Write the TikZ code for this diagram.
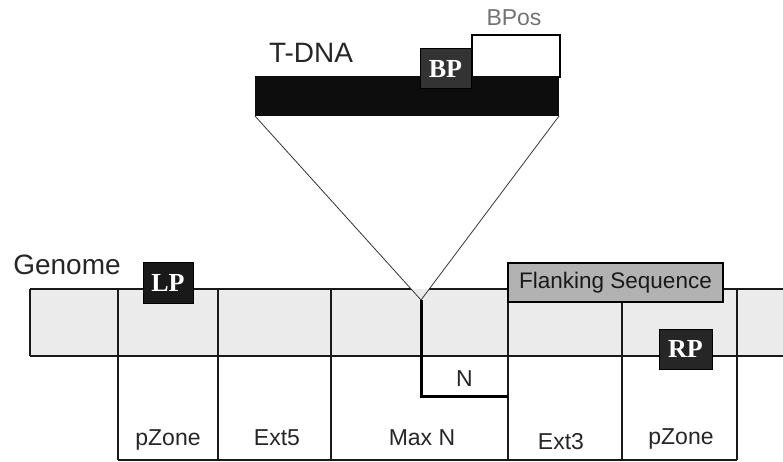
\documentclass[tikz,border=0pt]{standalone}
\usepackage{fontspec}
\setmainfont{Liberation Sans}
\newfontfamily\serifbold{Liberation Serif}
\begin{document}
\begin{tikzpicture}[x=1pt,y=-1pt,
  every node/.style={inner sep=0pt, outer sep=0pt},
  lbl/.style={font=\fontsize{23}{23}\selectfont, text=black!85},
  big/.style={font=\fontsize{28}{28}\selectfont, text=black!85},
  primer/.style={draw=black, line width=1pt, fill=#1, text=white,
    font=\serifbold\bfseries\fontsize{26}{26}\selectfont},
  gline/.style={line width=1.4pt, draw=black!90},
  arm/.style={line width=0.8pt, draw=black!80},
  thick line/.style={line width=3pt, draw=black}
]
\useasboundingbox (0,0) rectangle (783,462);

% genome band
\fill[black!8] (30,289) rectangle (783,356);
\draw[gline] (30,289) -- (411,289);
\draw[gline] (429,289) -- (783,289);
\draw[gline] (30,356) -- (783,356);
\draw[gline] (30,289) -- (30,356);
\draw[gline] (118,289) -- (118,460);
\draw[gline] (218,289) -- (218,460);
\draw[gline] (331,289) -- (331,460);
\draw[gline] (508,300) -- (508,460);
\draw[gline] (622,300) -- (622,460);
\draw[gline] (737,289) -- (737,460);
\draw[gline] (118,460) -- (737,460);

% T-DNA
\node[draw=black, line width=1.2pt, fill=white, minimum width=88pt, minimum height=42pt] (bpos) at (516,56) {};
\node[fill=black!95, minimum width=304pt, minimum height=40pt] (tdna) at (407,96) {};
\node[primer=black!80, minimum width=51pt, minimum height=40pt] (bp) at (445.5,69) {BP};
\node[big] (tlabel) at (311,53) {T-DNA};
\node[lbl, text=black!55] (bposlabel) at (514,18) {BPos};

% insertion
\coordinate (apex) at (421,300);
\draw[arm] (tdna.south west) -- (apex) -- (tdna.south east);

% N box
\draw[thick line] (apex) -- (421,396) -- (508,396);
\node[lbl] (n) at (464.5,379) {N};

% flanking sequence
\node[draw=black, line width=1.2pt, fill=black!30, minimum width=215pt, minimum height=39pt,
  font=\fontsize{22.5}{22.5}\selectfont, text=black!90] (flank) at (615.5,282.5) {Flanking Sequence};

% primers
\node[primer=black!90, minimum width=50pt, minimum height=41pt] (lp) at (168,282.5) {LP};
\node[primer=black!85, minimum width=53pt, minimum height=40pt] (rp) at (685.5,349) {RP};

% labels
\node[big] (genome) at (67,265) {Genome};
\node[lbl, anchor=base] (pz1) at (168,445) {pZone};
\node[lbl, anchor=base] (ext5) at (277,445) {Ext5};
\node[lbl, anchor=base] (maxn) at (422,445) {Max N};
\node[lbl, anchor=base] (ext3) at (561,449) {Ext3};
\node[lbl, anchor=base] (pz2) at (681,444) {pZone};
\end{tikzpicture}
\end{document}
